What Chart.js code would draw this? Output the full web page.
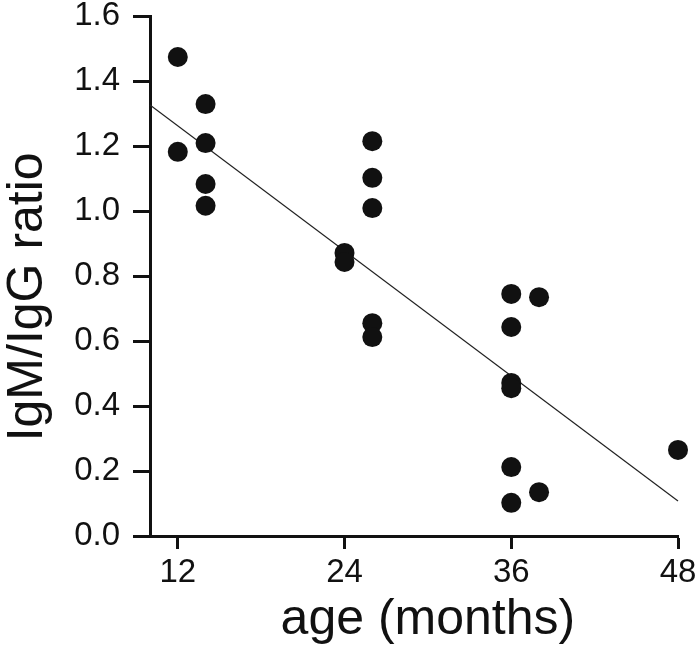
<!DOCTYPE html>
<html>
<head>
<meta charset="utf-8">
<script src="https://cdn.jsdelivr.net/npm/chart.js@4"></script>
<style>
  body { margin: 0; background: #fff; }
  #wrap { width: 700px; height: 657px; }
</style>
</head>
<body>
<div id="wrap"><canvas id="chart" width="700" height="657"></canvas></div>
<script>
// data
const ageMonths = [12, 12, 14, 14, 14, 14, 24, 24, 26, 26, 26, 26, 26, 36, 36, 36, 36, 36, 36, 38, 38, 48];
const ratioValues = [1.474, 1.182, 1.329, 1.209, 1.083, 1.016, 0.871, 0.843, 1.215, 1.102, 1.009, 0.655, 0.612,
                     0.745, 0.643, 0.471, 0.455, 0.212, 0.102, 0.735, 0.135, 0.265];
const fitAge = [10, 48];
const fitRatio = [1.326, 0.108];
const xTicks = [12, 24, 36, 48];

const font = "'Liberation Sans', Arial, Helvetica, sans-serif";
const ink = "#111";

const points = ageMonths.map((a, i) => ({ x: a, y: ratioValues[i] }));
const fitLine = fitAge.map((a, i) => ({ x: a, y: fitRatio[i] }));

new Chart(document.getElementById("chart"), {
    type: "scatter",
    data: {
        datasets: [
            {
                data: fitLine,
                showLine: true,
                borderColor: "#222",
                borderWidth: 1.2,
                pointRadius: 0,
                order: 2
            },
            {
                data: points,
                backgroundColor: ink,
                borderWidth: 0,
                pointRadius: 10,
                order: 1
            }
        ]
    },
    options: {
        responsive: false,
        devicePixelRatio: 1,
        animation: false,
        clip: false,
        layout: { padding: { top: 16, right: 22, bottom: 0, left: 0 } },
        plugins: { legend: { display: false }, tooltip: { enabled: false } },
        scales: {
            x: {
                type: "linear",
                min: 10,
                max: 48,
                afterBuildTicks: (s) => { s.ticks = xTicks.map(v => ({ value: v })); },
                afterFit: (s) => {
                    s.height = 121;
                    s.paddingLeft = 0;
                    s.paddingRight = 0;
                },
                border: { color: ink, width: 3 },
                grid: { drawOnChartArea: false, tickLength: 13, tickWidth: 3, tickColor: ink },
                ticks: { color: ink, padding: 7, font: { family: font, size: 33, lineHeight: 1 } },
                title: {
                    display: true,
                    text: "  age (months)",
                    color: ink,
                    padding: { top: 0, bottom: 12 },
                    font: { family: font, size: 50, lineHeight: 1 }
                }
            },
            y: {
                min: 0,
                max: 1.6,
                afterFit: (s) => {
                    s.width = 150;
                    s.paddingTop = 0;
                    s.paddingBottom = 0;
                },
                border: { color: ink, width: 3 },
                grid: { drawOnChartArea: false, tickLength: 17, tickWidth: 3, tickColor: ink },
                ticks: {
                    stepSize: 0.2,
                    color: ink,
                    padding: 13,
                    font: { family: font, size: 33, lineHeight: 1 },
                    callback: (v) => v.toFixed(1)
                },
                title: {
                    display: true,
                    text: "IgM/IgG ratio   ",
                    color: ink,
                    padding: 0,
                    font: { family: font, size: 50, lineHeight: 1.12 }
                }
            }
        }
    }
});
</script>
</body>
</html>
